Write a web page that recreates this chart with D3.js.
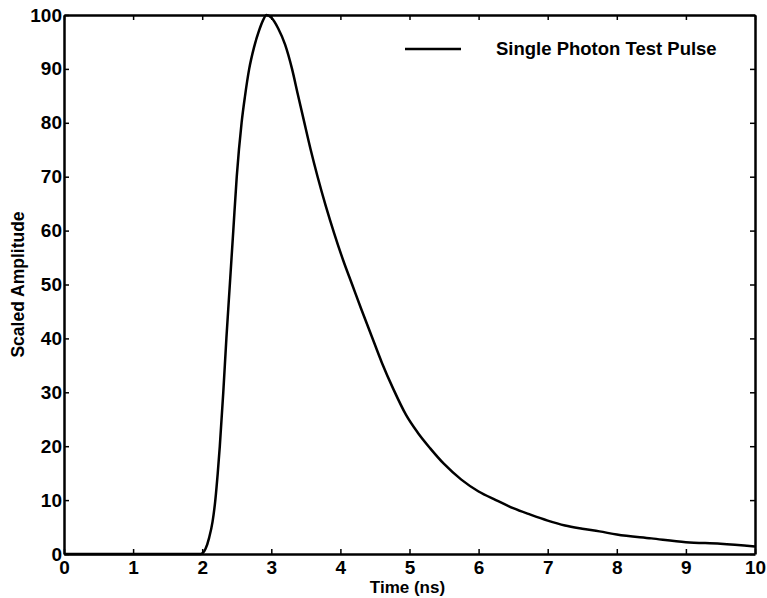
<!DOCTYPE html>
<html>
<head>
<meta charset="utf-8">
<script src="https://cdn.jsdelivr.net/npm/d3@7"></script>
<style>
  body { margin: 0; background: #fff; }
  text { font-family: "Liberation Sans", Arial, sans-serif; font-weight: bold; fill: #000; }
</style>
</head>
<body>
<div id="chart"></div>
<script>
// pulse samples
var timeNs = [0, 1.98, 2.05, 2.1, 2.15, 2.19, 2.225, 2.255, 2.305, 2.35, 2.4, 2.45, 2.5, 2.57, 2.62, 2.68,
  2.75, 2.82, 2.88, 2.93, 3.0, 3.1, 3.2, 3.3, 3.38, 3.47, 3.57, 3.67, 3.79, 3.91, 4.04, 4.17,
  4.3, 4.45, 4.6, 4.77, 4.95, 5.12, 5.3, 5.5, 5.75, 6.0, 6.25, 6.5, 6.75, 7.0, 7.25, 7.5, 7.75, 8.0,
  8.5, 9.0, 9.5, 10];
var amplitude = [0, 0, 1, 3, 6, 10, 15, 20, 30, 40, 50, 60, 70, 80, 85, 90,
  94, 97, 99, 100, 99.5, 97.5, 94.5, 90, 85.5, 80.5, 75, 70, 64.5, 59.5, 54.5, 50,
  45.5, 40.5, 35.5, 30.5, 25.8, 22.5, 19.6, 16.7, 13.8, 11.6, 10, 8.5, 7.3, 6.2, 5.3, 4.7, 4.2, 3.6,
  2.9, 2.2, 1.9, 1.4];
var xTicks = [0, 1, 2, 3, 4, 5, 6, 7, 8, 9, 10];
var yTicks = [0, 10, 20, 30, 40, 50, 60, 70, 80, 90, 100];
var legendLabel = "Single Photon Test Pulse";

var W = 767, H = 598;
var margin = {top: 15, right: 12, bottom: 44, left: 64};
var width = W - margin.left - margin.right;
var height = H - margin.top - margin.bottom;

var svg = d3.select("#chart").append("svg")
  .attr("width", W)
  .attr("height", H)
  .append("g")
  .attr("transform", `translate(${margin.left},${margin.top})`);

var x = d3.scaleLinear().domain([0, 10]).range([0, width]);
var y = d3.scaleLinear().domain([0, 100]).range([height, 0]);

// axes, ticks pointing inward
svg.append("g")
  .attr("class", "axis")
  .attr("transform", `translate(0,${height})`)
  .call(d3.axisBottom(x).tickValues(xTicks).tickSizeInner(-5).tickSizeOuter(0).tickPadding(7));
svg.append("g")
  .attr("class", "axis")
  .call(d3.axisTop(x).tickValues(xTicks).tickSizeInner(-5).tickSizeOuter(0).tickFormat(""));
svg.append("g")
  .attr("class", "axis")
  .call(d3.axisLeft(y).tickValues(yTicks).tickSizeInner(-5).tickSizeOuter(0).tickPadding(2));
svg.append("g")
  .attr("class", "axis")
  .attr("transform", `translate(${width},0)`)
  .call(d3.axisRight(y).tickValues(yTicks).tickSizeInner(-5).tickSizeOuter(0).tickFormat(""));

svg.selectAll(".axis path.domain").attr("stroke", "#000").attr("stroke-width", 2.5);
svg.selectAll(".axis line").attr("stroke", "#000").attr("stroke-width", 1.5);
svg.selectAll(".axis text").style("font-size", "19px").style("font-family", "'Liberation Sans', Arial, sans-serif").style("font-weight", "bold");

var pts = timeNs.map(function(t, i) { return {t: t, v: amplitude[i]}; });

svg.append("path")
  .datum(pts)
  .attr("fill", "none")
  .attr("stroke", "#000")
  .attr("stroke-width", 2.5)
  .attr("stroke-linejoin", "round")
  .attr("d", d3.line()
    .x(function(d) { return x(d.t); })
    .y(function(d) { return y(d.v); })
    .curve(d3.curveMonotoneX));

// legend
svg.append("line")
  .attr("x1", 405 - margin.left).attr("x2", 461 - margin.left)
  .attr("y1", 49 - margin.top).attr("y2", 49 - margin.top)
  .attr("stroke", "#000").attr("stroke-width", 2.5);
svg.append("text")
  .attr("x", 496 - margin.left)
  .attr("y", 49 - margin.top)
  .attr("dy", "0.35em")
  .style("font-size", "18.5px")
  .text(legendLabel);

// axis titles
svg.append("text")
  .attr("x", width / 2 - 2)
  .attr("y", height + 39)
  .attr("text-anchor", "middle")
  .style("font-size", "17px")
  .text("Time (ns)");
svg.append("text")
  .attr("transform", `translate(${18 - margin.left},${height / 2}) rotate(-90)`)
  .attr("text-anchor", "middle")
  .attr("dy", "0.35em")
  .style("font-size", "17.5px")
  .text("Scaled Amplitude");
</script>
</body>
</html>
